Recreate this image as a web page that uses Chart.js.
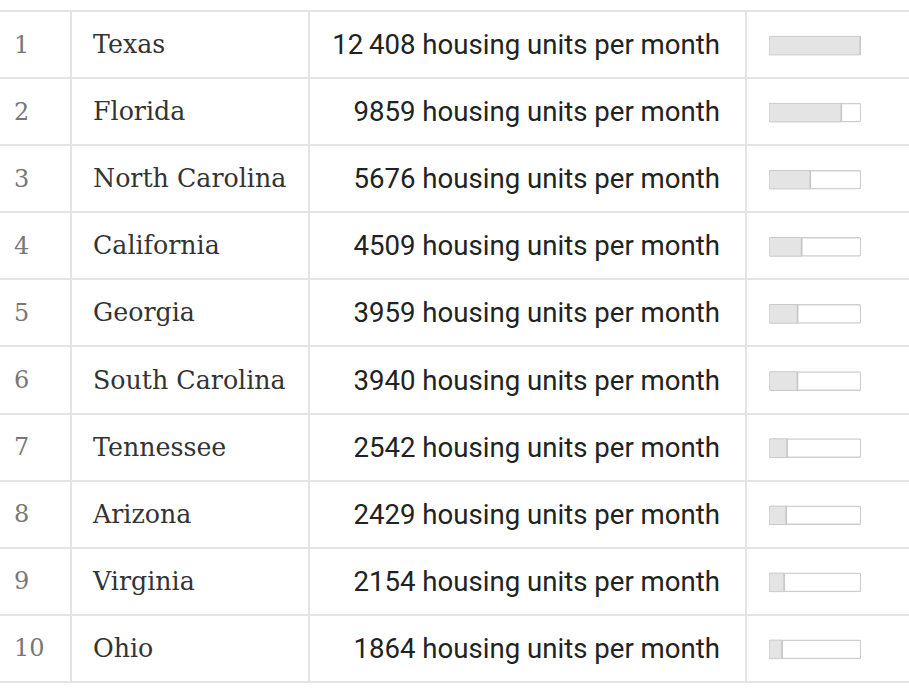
<!DOCTYPE html>
<html>
<head>
<meta charset="utf-8">
<script src="https://cdn.jsdelivr.net/npm/chart.js@4"></script>
<style>
  html, body { margin: 0; padding: 0; background: #fff; width: 909px; height: 689px; overflow: hidden; }
  #wrap { position: absolute; left: 0; top: 10px; width: 960px; }
  table { border-collapse: collapse; table-layout: fixed; width: 960px; }
  tr { height: 67.1px; }
  td { border: 2px solid #e4e4e4; padding: 0; vertical-align: middle; white-space: nowrap; }
  tr td:first-child { border-left: none; }
  td.rank { width: 71px; padding-left: 14px; box-sizing: border-box; font-family: "DejaVu Serif", serif; font-size: 24px; color: #777; }
  td.name { width: 238px; padding-left: 21px; box-sizing: border-box; font-family: "DejaVu Serif", serif; font-size: 25.3px; color: #333; }
  td.num { width: 437px; padding-right: 25px; box-sizing: border-box; text-align: right; font-family: Roboto, sans-serif; font-size: 27.6px; color: #222; }
  td.bar { width: 214px; }
  #cv { position: absolute; left: 765px; top: 12px; }
</style>
</head>
<body>
<div id="wrap"><table id="tbl"></table></div>
<canvas id="cv" width="100" height="671"></canvas>
<script>
const ranks = [1, 2, 3, 4, 5, 6, 7, 8, 9, 10];
const states = ["Texas", "Florida", "North Carolina", "California", "Georgia", "South Carolina", "Tennessee", "Arizona", "Virginia", "Ohio"];
const unitsPerMonth = [12408, 9859, 5676, 4509, 3959, 3940, 2542, 2429, 2154, 1864];
const unitLabel = "housing units per month";

function fmt(v) {
  const s = String(v);
  if (v >= 10000) return s.slice(0, s.length - 3) + "\u2009" + s.slice(-3);
  return s;
}

const tbl = document.getElementById("tbl");
states.forEach((st, i) => {
  const tr = document.createElement("tr");
  const a = document.createElement("td"); a.className = "rank"; a.textContent = ranks[i];
  const b = document.createElement("td"); b.className = "name"; b.textContent = st;
  const c = document.createElement("td"); c.className = "num"; c.textContent = fmt(unitsPerMonth[i]) + " " + unitLabel;
  const d = document.createElement("td"); d.className = "bar";
  tr.append(a, b, c, d);
  tbl.appendChild(tr);
});

const maxVal = Math.max(...unitsPerMonth);
const trackValues = unitsPerMonth.map(() => maxVal);

new Chart(document.getElementById("cv"), {
  type: "bar",
  data: {
    labels: states,
    datasets: [
      {
        label: "value",
        data: unitsPerMonth,
        order: 0,
        backgroundColor: "#e4e4e4",
        borderColor: "#c9c9c9",
        borderWidth: { top: 1, bottom: 1, left: 1, right: 2 },
        borderSkipped: false,
        borderRadius: 1.5
      },
      {
        label: "track",
        data: trackValues,
        order: 1,
        backgroundColor: "#ffffff",
        borderColor: "#cfcfcf",
        borderWidth: 1.5,
        borderSkipped: false,
        borderRadius: 2
      }
    ]
  },
  options: {
    indexAxis: "y",
    responsive: false,
    animation: false,
    devicePixelRatio: 1,
    layout: { padding: { left: 4, right: 4, top: 0, bottom: 0 } },
    datasets: { bar: { grouped: false, barThickness: 19 } },
    scales: {
      x: { display: false, min: 0, max: maxVal },
      y: { display: false, offset: true }
    },
    plugins: { legend: { display: false }, tooltip: { enabled: false } }
  }
});
</script>
</body>
</html>
